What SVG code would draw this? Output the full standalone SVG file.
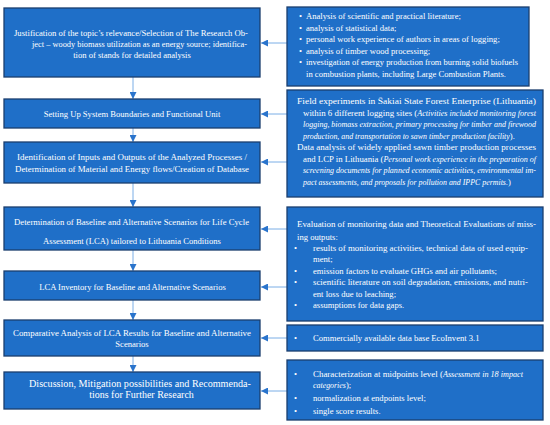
<svg xmlns="http://www.w3.org/2000/svg" width="550" height="425" viewBox="0 0 550 425">
<defs>
<style>
.box{fill:#1f6fc8;stroke:#1b3e6e;stroke-width:1.3}
text{font-family:"Liberation Serif","Times New Roman",serif;font-size:8.6px;fill:#ffffff}
.c{text-anchor:middle}
.big{font-size:10px}
.i{font-style:italic;font-size:7.9px}
.conn{stroke:#7aaee6;stroke-width:1;fill:none}
</style>
<marker id="ah" viewBox="0 0 10 10" refX="10" refY="5" markerWidth="7" markerHeight="7" markerUnits="userSpaceOnUse" orient="auto">
<path d="M0,0 L10,5 L0,10 Z" fill="#2a74cc"/>
</marker>
</defs>
<rect width="550" height="425" fill="#ffffff"/>

<g id="connectors">
<line class="conn" x1="133" y1="77" x2="133" y2="99" marker-end="url(#ah)"/>
<line class="conn" x1="133" y1="128" x2="133" y2="142" marker-end="url(#ah)"/>
<line class="conn" x1="133" y1="183" x2="133" y2="207" marker-end="url(#ah)"/>
<line class="conn" x1="133" y1="250" x2="133" y2="271" marker-end="url(#ah)"/>
<line class="conn" x1="133" y1="300" x2="133" y2="320" marker-end="url(#ah)"/>
<line class="conn" x1="133" y1="356" x2="133" y2="372" marker-end="url(#ah)"/>
<line class="conn" x1="287" y1="43" x2="261" y2="43" marker-end="url(#ah)"/>
<line class="conn" x1="287" y1="114" x2="261" y2="114" marker-end="url(#ah)"/>
<line class="conn" x1="287" y1="162" x2="261" y2="162" marker-end="url(#ah)"/>
<line class="conn" x1="287" y1="229" x2="261" y2="229" marker-end="url(#ah)"/>
<line class="conn" x1="287" y1="287" x2="261" y2="287" marker-end="url(#ah)"/>
<line class="conn" x1="287" y1="338" x2="261" y2="338" marker-end="url(#ah)"/>
<line class="conn" x1="287" y1="391" x2="261" y2="391" marker-end="url(#ah)"/>
</g>

<g id="n1">
<rect class="box" x="4" y="8" width="256" height="69"/>
<text x="14" y="36" textLength="234" lengthAdjust="spacingAndGlyphs">Justification of the topic’s relevance/Selection of The Research Ob-</text>
<text x="32" y="47" textLength="215" lengthAdjust="spacingAndGlyphs">ject – woody biomass utilization as an energy source; identifica-</text>
<text class="c" x="132" y="58">tion of stands for detailed analysis</text>
</g>

<g id="n2">
<rect class="box" x="4" y="99" width="256" height="29"/>
<text class="c" x="132" y="117">Setting Up System Boundaries and Functional Unit</text>
</g>

<g id="n3">
<rect class="box" x="4" y="142" width="256" height="41"/>
<text x="17" y="160" textLength="230" lengthAdjust="spacingAndGlyphs">Identification of Inputs and Outputs of the Analyzed Processes /</text>
<text x="15" y="172" textLength="234" lengthAdjust="spacingAndGlyphs">Determination of Material and Energy flows/Creation of Database</text>
</g>

<g id="n4">
<rect class="box" x="4" y="207" width="256" height="43"/>
<text x="14" y="225" textLength="235" lengthAdjust="spacingAndGlyphs">Determination of Baseline and Alternative Scenarios for Life Cycle</text>
<text class="c" x="132" y="244">Assessment (LCA) tailored to Lithuania Conditions</text>
</g>

<g id="n5">
<rect class="box" x="4" y="271" width="256" height="29"/>
<text class="c" x="132.5" y="290">LCA Inventory for Baseline and Alternative Scenarios</text>
</g>

<g id="n6">
<rect class="box" x="4" y="320" width="256" height="36"/>
<text x="13" y="336" textLength="238" lengthAdjust="spacingAndGlyphs">Comparative Analysis of LCA Results for Baseline and Alternative</text>
<text class="c" x="132" y="347">Scenarios</text>
</g>

<g id="n7">
<rect class="box" x="4" y="372" width="256" height="37"/>
<text class="big" x="29" y="387" textLength="222" lengthAdjust="spacingAndGlyphs">Discussion, Mitigation possibilities and Recommenda-</text>
<text class="big c" x="141.5" y="398">tions for Further Research</text>
</g>

<g id="r1">
<rect class="box" x="287" y="7" width="242" height="79"/>
<text x="299" y="19">•</text>
<text x="306" y="19">Analysis of scientific and practical literature;</text>
<text x="299" y="31">•</text>
<text x="306" y="31">analysis of statistical data;</text>
<text x="299" y="42">•</text>
<text x="306" y="42">personal work experience of authors in areas of logging;</text>
<text x="299" y="54">•</text>
<text x="306" y="54">analysis of timber wood processing;</text>
<text x="299" y="65">•</text>
<text x="306" y="65" textLength="212" lengthAdjust="spacingAndGlyphs">investigation of energy production from burning solid biofuels</text>
<text x="306" y="77">in combustion plants, including Large Combustion Plants.</text>
</g>

<g id="r2">
<rect class="box" x="287" y="90" width="256" height="107"/>
<text x="297" y="104" textLength="239" lengthAdjust="spacingAndGlyphs">Field experiments in Šakiai State Forest Enterprise (Lithuania)</text>
<text x="303" y="115.5" textLength="233" lengthAdjust="spacingAndGlyphs">within 6 different logging sites (<tspan class="i">Activities included monitoring forest</tspan></text>
<text class="i" x="303" y="127" textLength="233" lengthAdjust="spacingAndGlyphs">logging, biomass extraction, primary processing for timber and firewood</text>
<text x="303" y="138.5"><tspan class="i">production, and transportation to sawn timber production facility</tspan>).</text>
<text x="297" y="150" textLength="239" lengthAdjust="spacingAndGlyphs">Data analysis of widely applied sawn timber production processes</text>
<text x="303" y="161.5" textLength="233" lengthAdjust="spacingAndGlyphs">and LCP in Lithuania (<tspan class="i">Personal work experience in the preparation of</tspan></text>
<text class="i" x="303" y="173" textLength="233" lengthAdjust="spacingAndGlyphs">screening documents for planned economic activities, environmental im-</text>
<text x="303" y="184.5"><tspan class="i">pact assessments, and proposals for pollution and IPPC permits.</tspan>)</text>
</g>

<g id="r3">
<rect class="box" x="287" y="207" width="256" height="114"/>
<text x="297" y="227" textLength="239" lengthAdjust="spacingAndGlyphs">Evaluation of monitoring data and Theoretical Evaluations of miss-</text>
<text x="297" y="239.5">ing outputs:</text>
<text x="294" y="251">•</text>
<text x="313" y="251" textLength="215" lengthAdjust="spacingAndGlyphs">results of monitoring activities, technical data of used equip-</text>
<text x="313" y="262">ment;</text>
<text x="294" y="273.5">•</text>
<text x="313" y="273.5">emission factors to evaluate GHGs and air pollutants;</text>
<text x="294" y="285">•</text>
<text x="313" y="285" textLength="215" lengthAdjust="spacingAndGlyphs">scientific literature on soil degradation, emissions, and nutri-</text>
<text x="313" y="296.5">ent loss due to leaching;</text>
<text x="294" y="308">•</text>
<text x="313" y="308">assumptions for data gaps.</text>
</g>

<g id="r4">
<rect class="box" x="287" y="325" width="256" height="26"/>
<text x="294" y="341">•</text>
<text x="313" y="341">Commercially available data base EcoInvent 3.1</text>
</g>

<g id="r5">
<rect class="box" x="287" y="360" width="256" height="60"/>
<text x="294" y="377">•</text>
<text x="313" y="377" textLength="210" lengthAdjust="spacingAndGlyphs">Characterization at midpoints level (<tspan class="i">Assessment in 18 impact</tspan></text>
<text x="313" y="388"><tspan class="i">categories</tspan>);</text>
<text x="294" y="401">•</text>
<text x="313" y="401">normalization at endpoints level;</text>
<text x="294" y="414">•</text>
<text x="313" y="414">single score results.</text>
</g>
</svg>
